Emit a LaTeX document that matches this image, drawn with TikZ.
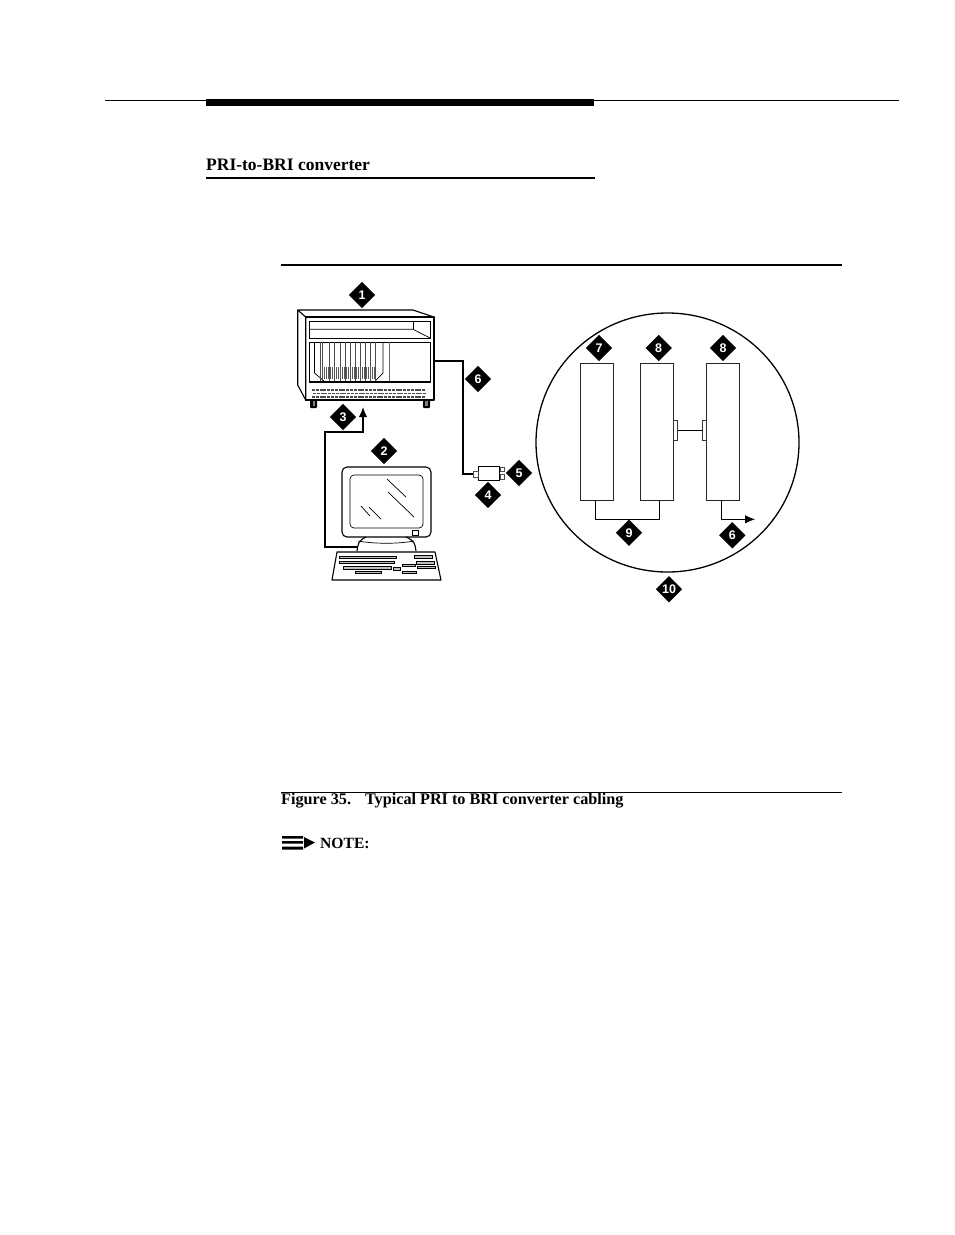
\documentclass[tikz,border=0pt]{standalone}
\usepackage{fontspec}
\setmainfont{Liberation Serif}
\newfontfamily\tagfont{Liberation Sans}
\usetikzlibrary{shapes.geometric,arrows.meta}
\tikzset{
  x=1pt,y=-1pt,
  tagmark/.style={diamond,fill=black,text=white,inner sep=0pt,minimum width=26.5pt,minimum height=26.5pt,font=\tagfont\bfseries\fontsize{12.5}{12.5}\selectfont},
  cardbox/.style={draw=black!85,line width=0.9pt,fill=white,minimum width=33pt,minimum height=137pt,inner sep=0pt},
  plugbox/.style={draw=black!80,line width=0.8pt,fill=white,minimum width=4pt,minimum height=19.5pt,inner sep=0pt},
  cable/.style={line width=1.3pt},
  thincable/.style={line width=0.8pt},
  tipped/.style={-{Latex[length=10pt,width=8.5pt]}},
  heading/.style={font=\bfseries\fontsize{16.2}{18}\selectfont,anchor=base west,inner sep=0pt},
  unit/.style={line width=1.1pt,line join=round},
  finer/.style={line width=0.7pt},
  keycap/.style={line width=0.7pt,fill=black!25},
}
\begin{document}
\begin{tikzpicture}
\useasboundingbox (0,0) rectangle (954,1235);
\fill[white] (0,0) rectangle (954,1235);
% page furniture
\draw[line width=0.8pt] (105,100) -- (899,100);
\fill (206,99) rectangle (594,106);
\node[heading,font=\bfseries\fontsize{17.5}{18}\selectfont] (title) at (206,170) {PRI-to-BRI converter};
\draw[line width=1.8pt] (206,178) -- (595,178);
\draw[line width=1.8pt] (281,265) -- (842,265);
\draw[line width=0.8pt] (281,792) -- (842,792);
\node[heading] (cap) at (281,804) {Figure 35.\hspace{14pt}Typical PRI to BRI converter cabling};
\node[heading,font=\bfseries\fontsize{15.6}{18}\selectfont] (note) at (320,848) {NOTE:};
\fill (282,836) rectangle (303,838.5) (282,841) rectangle (303,843.5) (282,846.5) rectangle (303,849.5);
\fill (304,837) -- (315,842.5) -- (304,848.5) -- cycle;

% cabinet
\draw[unit] (297.7,310) -- (413,310) -- (434,317) -- (305.7,317) -- cycle;
\draw[unit] (297.7,310) -- (297.7,385) -- (305.7,400) -- (305.7,317);
\draw[unit] (305.7,317) rectangle (434,400);
\draw[finer] (309,321) rectangle (430,338);
\draw[finer] (309,329.3) -- (413,329.3) -- (430,338);
\draw[finer] (413,321) -- (413,329.3);
\draw[finer] (309,342) rectangle (430,382);
\draw[finer,black!60] (389,342) -- (389,381);
% interior of the carrier
\draw[finer] (314.5,342) -- (314.5,373) -- (324,381);
\draw[finer] (383,342) -- (383,373) -- (375,381);
\foreach \sx in {320,322.5,329,334,340,345,350,355,360,365,370,375}
  \draw[line width=0.6pt,black!70] (\sx,342) -- (\sx,381);
\foreach \sx in {324,326,328,330,332,334,336,338,340,342,344,346,348,350,352,354,356,358,360,362,364,366,368,370,372,374}
  \draw[line width=0.6pt,black!65] (\sx,367) -- (\sx,379);
\draw[finer] (309,381.5) -- (430,381.5);
\draw[line width=1.5pt,dash pattern=on 3pt off 0.8pt,black!70] (312,390) -- (425,390);
\draw[line width=1.5pt,dash pattern=on 3pt off 0.8pt,black!70] (313,393.5) -- (426,393.5);
\draw[line width=1.5pt,dash pattern=on 3pt off 0.8pt,black!70] (312,397) -- (425,397);
\fill[rounded corners=1pt] (310,400) rectangle (317,408) (423,400) rectangle (430,408);
\fill[black!50] (312.5,401) rectangle (315,405.5);
\fill[black!50] (425,401) rectangle (428,405.5);
\coordinate (cabout) at (434,361);
\coordinate (cabin) at (363,407);

% terminal
\draw[unit,rounded corners=5pt] (342,467) rectangle (431,537);
\draw[finer,rounded corners=4pt] (350,475) rectangle (423,528);
\draw[finer] (387,479) -- (406,497) (388,492) -- (414,517) (361,506) -- (370,516) (369,507) -- (381,519);
\draw[finer] (412,530) rectangle (418,535);
\draw[unit] (357,551) .. controls (358,544) and (358,541) .. (366,537);
\draw[unit] (416,551) .. controls (415,544) and (415,541) .. (406,537);
\draw[finer] (358,541) .. controls (375,544) and (398,544) .. (414,541);
\draw[unit] (337,552) -- (435,552) -- (441,580) -- (332,580) -- cycle;
\draw[keycap] (339,556) rectangle (396,558.5);
\draw[keycap] (339,561) rectangle (394,563.5);
\draw[keycap] (343,566) rectangle (391,569);
\draw[keycap] (355,571) rectangle (381,573);
\draw[keycap] (393,567) rectangle (400,570);
\draw[keycap] (402,564) rectangle (415,566);
\draw[keycap] (402,571) rectangle (416,573);
\draw[keycap] (414,555) rectangle (432,558);
\draw[keycap] (416,561) rectangle (434,564);
\draw[keycap] (417,566) rectangle (435,568);
\coordinate (termout) at (357,547);

% converter
\node[draw,line width=1.5pt,fill=white,minimum width=21pt,minimum height=14pt,inner sep=0pt] (conv) at (489,473.5) {};
\node[draw=black!70,line width=0.8pt,fill=white,minimum width=5pt,minimum height=6pt,inner sep=0pt] (convin) at (475.5,474) {};
\node[draw=black!70,line width=0.8pt,fill=white,minimum width=4pt,minimum height=4.5pt,inner sep=0pt] (convouta) at (502,469.5) {};
\node[draw=black!70,line width=0.8pt,fill=white,minimum width=4pt,minimum height=4.5pt,inner sep=0pt] (convoutb) at (502,477) {};

\draw[cable] (cabout) -- (463,361) -- (463,474) -- (convin.west);
\draw[cable,tipped] (termout) -- (325,547) -- (325,432) -- (363,432) -- (cabin);

% enlarged view
\node[ellipse,draw,line width=1.3pt,minimum width=263pt,minimum height=259pt,inner sep=0pt] (view) at (667.5,442.5) {};
\node[cardbox] (carda) at (597.3,431.7) {};
\node[cardbox] (cardb) at (656.8,431.7) {};
\node[cardbox] (cardc) at (722.8,431.7) {};
\node[plugbox] (plugb) at (675.3,430.5) {};
\node[plugbox] (plugc) at (704.3,430.5) {};
\draw[thincable] (plugb.east) -- (plugc.west);
\coordinate (bra) at (595.7,500);
\coordinate (brb) at (659.7,500);
\coordinate (out) at (721.3,500);
\coordinate (outtip) at (755,519.3);
\draw[thincable] (bra) -- (595.7,519.3) -- (659.7,519.3) -- (brb);
\draw[thincable,tipped] (out) -- (721.3,519.3) -- (outtip);

% tags
\node[tagmark] (t1) at (362,295) {1};
\node[tagmark] (t2) at (384,451) {2};
\node[tagmark] (t3) at (343,417) {3};
\node[tagmark] (t4) at (488,495) {4};
\node[tagmark] (t5) at (519,473) {5};
\node[tagmark] (t6) at (478,379) {6};
\node[tagmark] (t7) at (599,348) {7};
\node[tagmark] (t8) at (658.7,348) {8};
\node[tagmark] (t8b) at (723,348) {8};
\node[tagmark] (t9) at (629,532.7) {9};
\node[tagmark] (t6b) at (732.3,535.3) {6};
\node[tagmark] (t10) at (669,589.3) {10};
\end{tikzpicture}
\end{document}
